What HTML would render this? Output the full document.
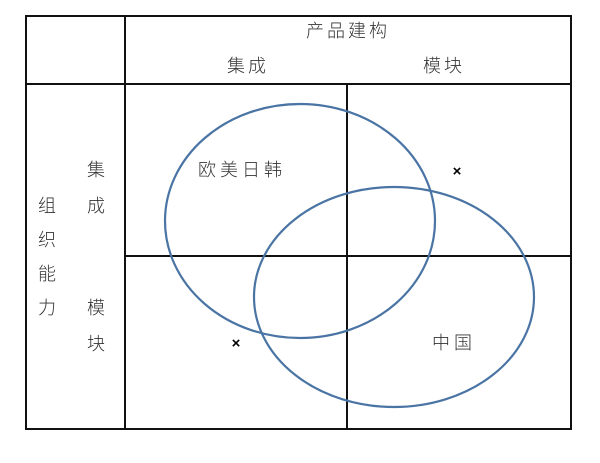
<!DOCTYPE html>
<html><head><meta charset="utf-8"><style>
html,body{margin:0;padding:0;background:#fff;}
svg text{font-family:"Liberation Sans","Noto Sans CJK SC",sans-serif;font-size:18px;fill:#333;font-weight:300;}
</style></head><body>
<svg width="600" height="458" viewBox="0 0 600 458" xmlns="http://www.w3.org/2000/svg">
<g stroke="#111" stroke-width="2" fill="none">
<rect x="26" y="16" width="545" height="413"/>
<line x1="125" y1="16" x2="125" y2="429"/>
<line x1="26" y1="84" x2="571" y2="84"/>
<line x1="347" y1="84" x2="347" y2="429"/>
<line x1="125" y1="256" x2="571" y2="256"/>
</g>
<g stroke="#4a74a4" stroke-width="2.2" fill="none">
<ellipse cx="300" cy="221" rx="135" ry="117"/>
<ellipse cx="394" cy="297" rx="140" ry="110"/>
</g>
<g text-anchor="middle">
<text x="348" y="37" letter-spacing="3">产品建构</text>
<text x="248" y="72" letter-spacing="3">集成</text>
<text x="444" y="72" letter-spacing="3">模块</text>
<text x="242" y="176" letter-spacing="4">欧美日韩</text>
<text x="454" y="349" letter-spacing="4">中国</text>
<text x="47" y="212">组</text><text x="47" y="246">织</text><text x="47" y="280">能</text><text x="47" y="314">力</text>
<text x="96" y="176">集</text><text x="96" y="212">成</text>
<text x="96" y="314">模</text><text x="96" y="350">块</text>
<text x="457" y="176" style="font-size:15px;font-weight:bold;fill:#000">×</text>
<text x="236" y="348" style="font-size:15px;font-weight:bold;fill:#000">×</text>
</g>
</svg>
</body></html>
